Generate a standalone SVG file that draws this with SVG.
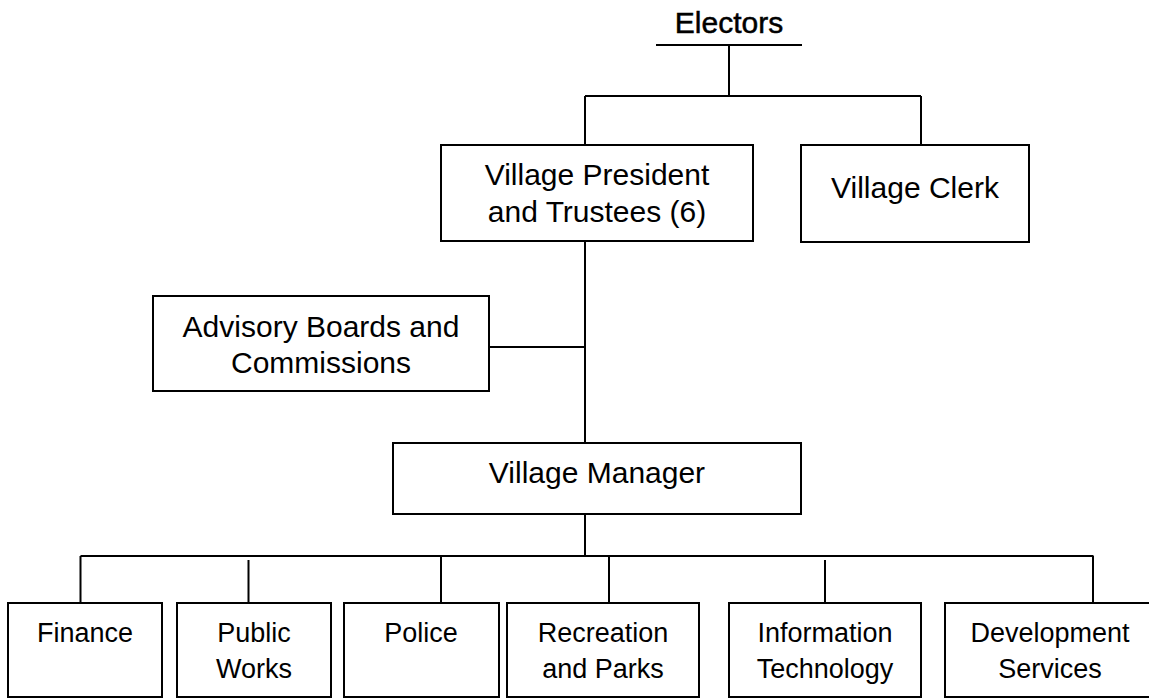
<svg xmlns="http://www.w3.org/2000/svg" width="1149" height="700" viewBox="0 0 1149 700">
<style>
.box{fill:#fff;stroke:#000;stroke-width:2}
.ln{fill:none;stroke:#000;stroke-width:2}
.t{font-family:"Liberation Sans",Arial,sans-serif;font-size:30px;fill:#000;text-anchor:middle}
.s{font-family:"Liberation Sans",Arial,sans-serif;font-size:27px;fill:#000;text-anchor:middle}
</style>
<rect width="1149" height="700" fill="#fff"/>
<g id="connectors">
<path class="ln" d="M656 45H802M729 45V96M585 96H921M585 96V145M921 96V145"/>
<path class="ln" d="M585 241V443M489 347H585"/>
<path class="ln" d="M585 514V556M80.5 556H1093.5M80.5 556V603M248.5 560V603M441 556V603M609 556V603M825 560V603M1093 556V603"/>
</g>
<g id="electors">
<text class="t" x="729" y="33" font-size="29" stroke="#000" stroke-width="0.5">Electors</text>
</g>
<g id="president">
<rect class="box" x="441" y="145" width="312" height="96"/>
<text class="t" x="597" y="185">Village President</text>
<text class="t" x="597" y="222">and Trustees (6)</text>
</g>
<g id="clerk">
<rect class="box" x="801" y="145" width="228" height="97"/>
<text class="t" x="915" y="198">Village Clerk</text>
</g>
<g id="advisory">
<rect class="box" x="153" y="296" width="336" height="95"/>
<text class="t" x="321" y="337">Advisory Boards and</text>
<text class="t" x="321" y="373">Commissions</text>
</g>
<g id="manager">
<rect class="box" x="393" y="443" width="408" height="71"/>
<text class="t" x="597" y="483">Village Manager</text>
</g>
<g id="finance">
<rect class="box" x="8" y="603" width="154" height="94"/>
<text class="s" x="85" y="642">Finance</text>
</g>
<g id="public-works">
<rect class="box" x="177" y="603" width="154" height="94"/>
<text class="s" x="254" y="642">Public</text>
<text class="s" x="254" y="678">Works</text>
</g>
<g id="police">
<rect class="box" x="344" y="603" width="155" height="94"/>
<text class="s" x="421" y="642">Police</text>
</g>
<g id="recreation">
<rect class="box" x="507" y="603" width="192" height="94"/>
<text class="s" x="603" y="642">Recreation</text>
<text class="s" x="603" y="678">and Parks</text>
</g>
<g id="it">
<rect class="box" x="729" y="603" width="192" height="94"/>
<text class="s" x="825" y="642">Information</text>
<text class="s" x="825" y="678">Technology</text>
</g>
<g id="development">
<rect class="box" x="945" y="603" width="210" height="94"/>
<text class="s" x="1050" y="642">Development</text>
<text class="s" x="1050" y="678">Services</text>
</g>
</svg>
